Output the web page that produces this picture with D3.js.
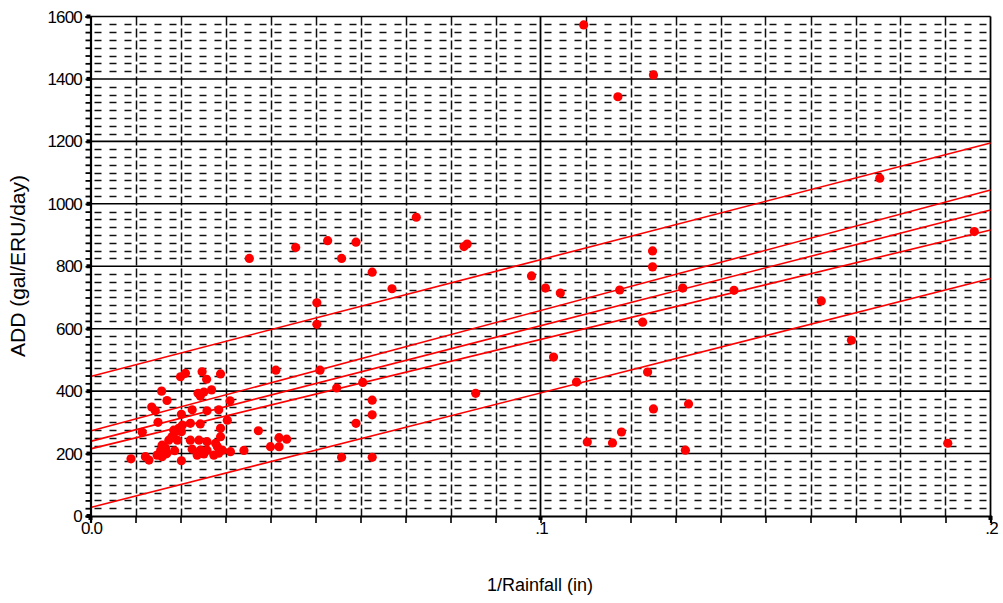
<!DOCTYPE html>
<html>
<head>
<meta charset="utf-8">
<script src="https://cdn.jsdelivr.net/npm/d3@7"></script>
<style>
  html, body { margin: 0; padding: 0; background: #fff; }
  svg { display: block; }
  text { font-family: "Liberation Sans", Arial, sans-serif; fill: #000; }
</style>
</head>
<body>
<script>
// ---------- data ----------
const xTickValues = [0, 0.1, 0.2];
const xTickLabels = ["0.0", ".1", ".2"];
const yTickValues = [0, 200, 400, 600, 800, 1000, 1200, 1400, 1600];
const yTickLabels = ["0", "200", "400", "600", "800", "1000", "1200", "1400", "1600"];

// regression lines: value at x = 0 and at x = 0.2
const lineStart = [447, 272, 239, 215, 27];
const lineEnd   = [1195, 1044, 980, 916, 761];

// observations: 1/Rainfall and ADD
const pointX = [
  0.0090, 0.0122, 0.0130, 0.0158, 0.0170, 0.0136, 0.0144, 0.0115, 0.0150, 0.0200,
  0.0211, 0.0248, 0.0258, 0.0289, 0.0239, 0.0252, 0.0269, 0.0244, 0.0310, 0.0226,
  0.0259, 0.0285, 0.0304, 0.0202, 0.0222, 0.0244, 0.0204, 0.0196, 0.0202, 0.0189,
  0.0289, 0.0289, 0.0181, 0.0174, 0.0222, 0.0241, 0.0259, 0.0278, 0.0159, 0.0167,
  0.0156, 0.0148, 0.0159, 0.0170, 0.0226, 0.0237, 0.0244, 0.0259, 0.0282, 0.0293,
  0.0274, 0.0285, 0.0202, 0.0187, 0.0167, 0.0341, 0.0185, 0.0311, 0.0252, 0.0193,
  0.0353, 0.0456, 0.0527, 0.0590, 0.0558, 0.0626, 0.0670, 0.0503, 0.0503, 0.0412,
  0.0510, 0.0547, 0.0605, 0.0626, 0.0626, 0.0590, 0.0373, 0.0419, 0.0436, 0.0400,
  0.0419, 0.0558, 0.0626, 0.0856, 0.0724, 0.0830, 0.0837,
  0.0980, 0.1011, 0.1044, 0.1029, 0.1080, 0.1104, 0.1160, 0.1249, 0.1249, 0.1176,
  0.1227, 0.1316, 0.1238, 0.1251, 0.1180, 0.1329, 0.1322,
  0.1096, 0.1251, 0.1172, 0.1754, 0.1964, 0.1430, 0.1624, 0.1691, 0.1905
];
const pointY = [
  183, 190, 179, 400, 370, 349, 337, 268, 300, 446,
  457, 462, 438, 455, 393, 397, 404, 384, 369, 340,
  337, 340, 307, 326, 297, 295, 291, 281, 270, 270,
  281, 254, 254, 243, 243, 243, 238, 233, 227, 217,
  211, 195, 190, 201, 214, 195, 211, 211, 222, 211,
  195, 201, 177, 209, 199, 210, 275, 206, 199, 243,
  825, 860, 882, 877, 825, 781, 728, 683, 614, 467,
  467, 410, 428, 371, 324, 297, 273, 251, 246, 222,
  222, 188, 188, 393, 957, 863, 871,
  769, 730, 714, 509, 429, 237, 234, 849, 798, 724,
  621, 730, 461, 343, 269, 359, 211,
  1573, 1413, 1343, 1082, 911, 723, 689, 563, 233
];

// ---------- layout ----------
const W = 1003, H = 603;
const X0 = 90.5, X1 = 990.5, YTOP = 16.5, YBOT = 516;

const x = d3.scaleLinear().domain([0, 0.2]).range([X0, X1]);
const y = d3.scaleLinear().domain([0, 1600]).range([YBOT, YTOP]);

const svg = d3.select("body").append("svg").attr("width", W).attr("height", H);

// minor horizontal dashed grid every 25
const minorY = d3.range(25, 1600, 25).filter(v => v % 200 !== 0);
svg.append("g").selectAll("line").data(minorY).join("line")
  .attr("x1", X0).attr("x2", X1)
  .attr("y1", d => Math.round(y(d)) + 0.5).attr("y2", d => Math.round(y(d)) + 0.5)
  .attr("stroke", "#111").attr("stroke-width", 1.6)
  .attr("stroke-dasharray", "7,8").attr("stroke-dashoffset", 11);

// vertical dashed grid every 0.01
const minorX = d3.range(1, 20).filter(i => i !== 10).map(i => i / 100);
svg.append("g").selectAll("line").data(minorX).join("line")
  .attr("x1", d => Math.round(x(d)) + 0.5).attr("x2", d => Math.round(x(d)) + 0.5)
  .attr("y1", YTOP).attr("y2", YBOT)
  .attr("stroke", "#111").attr("stroke-width", 1.5)
  .attr("stroke-dasharray", "9,3");

// major solid horizontal lines
svg.append("g").selectAll("line").data(yTickValues.filter(v => v > 0)).join("line")
  .attr("x1", X0).attr("x2", X1)
  .attr("y1", d => y(d)).attr("y2", d => y(d))
  .attr("stroke", "#000").attr("stroke-width", 1.6);

// major solid vertical lines
svg.append("g").selectAll("line").data([0.1, 0.2]).join("line")
  .attr("x1", d => x(d)).attr("x2", d => x(d))
  .attr("y1", YTOP).attr("y2", YBOT)
  .attr("stroke", "#000").attr("stroke-width", 1.8);

// regression lines
const lineGen = d3.line().x(d => x(d[0])).y(d => y(d[1]));
svg.append("g").selectAll("path").data(lineStart.map((s, i) => [[0, s], [0.2, lineEnd[i]]]))
  .join("path")
  .attr("d", lineGen)
  .attr("fill", "none").attr("stroke", "#ff0000").attr("stroke-width", 1.6);

// points
svg.append("g").selectAll("circle").data(pointX.map((v, i) => [v, pointY[i]])).join("circle")
  .attr("cx", d => x(d[0])).attr("cy", d => y(d[1])).attr("r", 4.6)
  .attr("fill", "#ff0000");

// axes
const yAxis = d3.axisLeft(y)
  .tickValues(d3.range(0, 1601, 25))
  .tickSize(5).tickFormat("");
const gy = svg.append("g").attr("transform", `translate(${X0},0)`).call(yAxis);
gy.select(".domain").attr("stroke-width", 2.2);
gy.selectAll(".tick line").attr("stroke-width", 1.8);

const xAxis = d3.axisBottom(x)
  .tickValues(d3.range(0, 21).map(i => i / 100))
  .tickSize(7).tickFormat("");
const gx = svg.append("g").attr("transform", `translate(0,${YBOT})`).call(xAxis);
gx.select(".domain").attr("stroke-width", 2.2);
gx.selectAll(".tick line").attr("stroke-width", 1.6);

// major tick squares
svg.append("g").selectAll("rect").data(yTickValues).join("rect")
  .attr("x", X0 - 4).attr("y", d => y(d) - 2).attr("width", 4).attr("height", 4).attr("fill", "#000");
svg.append("g").selectAll("rect").data(xTickValues).join("rect")
  .attr("x", d => x(d) - 2).attr("y", YBOT).attr("width", 4).attr("height", 4).attr("fill", "#000");

// tick labels
svg.append("g").selectAll("text").data(yTickValues).join("text")
  .attr("x", 82).attr("y", d => y(d)).attr("dy", "0.36em")
  .attr("text-anchor", "end").attr("font-size", 17).attr("letter-spacing", -0.8)
  .text((d, i) => yTickLabels[i]);
svg.append("g").selectAll("text").data(xTickValues).join("text")
  .attr("x", d => x(d) + 1).attr("y", 534)
  .attr("text-anchor", "middle").attr("font-size", 17).attr("letter-spacing", -0.8)
  .text((d, i) => xTickLabels[i]);

// axis titles
svg.append("text").attr("x", 540).attr("y", 591).attr("text-anchor", "middle")
  .attr("font-size", 18).text("1/Rainfall (in)");
svg.append("text").attr("transform", "translate(25,266) rotate(-90)").attr("text-anchor", "middle")
  .attr("font-size", 21).text("ADD (gal/ERU/day)");
</script>
</body>
</html>
